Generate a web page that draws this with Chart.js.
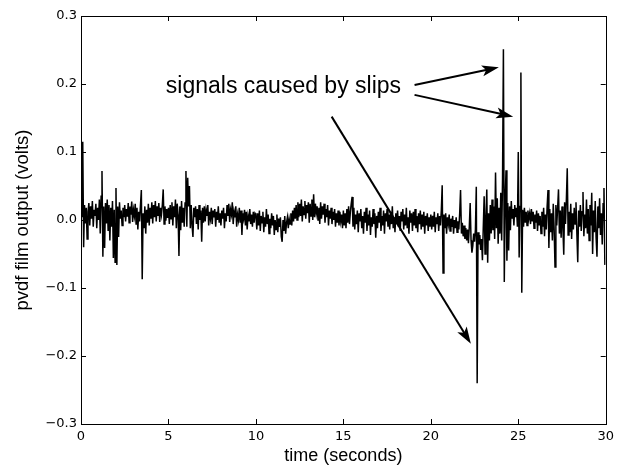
<!DOCTYPE html>
<html>
<head>
<meta charset="utf-8">
<script src="https://cdn.jsdelivr.net/npm/chart.js@4/dist/chart.umd.min.js"></script>
<style>
  html, body { margin: 0; padding: 0; background: #fff; }
  canvas { display: block; }
</style>
</head>
<body>
<canvas id="c" width="619" height="467" style="width:619px;height:467px"></canvas>
<script>
// ---- Data (pvdf film output, millivolts), one array per 5-second block, sampled every 0.05 s ----
const SAMPLE_STEP_S = 0.05;
const block_00_05_mV = [5,30,115,-40,22,-5,18,-28,12,25,-8,20,2,28,-10,15,6,24,-12,18,
  0,30,-20,35,72,-54,20,-41,25,-5,30,-15,22,-30,18,-10,28,-56,15,-62,
  47,-66,20,-25,26,2,14,-8,18,4,22,-2,16,5,25,-4,20,8,27,-3,
  15,6,24,-6,18,-14,12,-2,22,44,-87,10,-12,20,-20,15,-4,24,-8,18,
  2,26,-5,22,4,28,-2,20,6,25,-3,18,8,22,45,-6,20,-1,16,3];
const block_05_10_mV = [18,-6,22,2,26,-8,20,4,30,-12,24,8,-53,20,-15,28,-4,18,-10,25,
  72,-10,62,20,50,-12,22,-8,-25,18,4,20,-6,16,-14,22,0,14,-32,18,
  -4,20,-2,15,6,22,-8,12,2,18,-6,14,4,16,-10,12,0,20,-4,10,
  -8,14,2,18,-12,10,-2,22,6,24,-3,15,8,26,-6,12,4,20,-10,8,
  0,18,-4,14,-22,10,2,15,-8,12,-14,6,-2,16,-6,8,-10,12,-4,10];
const block_10_15_mV = [8,-14,10,-8,14,-16,6,-4,12,-18,4,-10,16,-6,8,-20,2,-12,10,-8,
  6,-22,0,-14,8,-18,2,-10,4,-24,-32,0,-16,6,-20,-4,4,-12,2,-6,
  10,-8,14,-2,18,2,22,0,26,4,24,6,30,-2,20,8,28,2,22,10,
  26,-4,24,6,30,0,38,4,24,10,20,0,18,-6,26,2,20,8,24,-4,
  16,4,22,-8,14,2,18,-6,12,0,16,-10,10,-4,14,-8,12,-2,8,-12];
const block_15_20_mV = [14,-8,10,-12,16,-4,20,-6,12,24,34,-10,18,-14,8,-6,14,-18,10,-2,
  16,-12,6,-20,12,-4,18,-16,8,-8,14,-22,4,-10,16,-6,10,-26,6,-12,
  12,-4,18,-16,6,-8,14,-20,10,-2,16,-10,8,-14,12,-6,20,-12,4,-18,
  10,-6,14,-10,6,-16,12,-2,16,-14,8,-8,18,-12,4,-20,14,-4,10,-16,
  12,-8,16,-12,6,-18,10,-6,14,-14,8,-10,12,-20,6,-8,10,-16,4,-10];
const block_20_25_mV = [8,-14,6,-10,12,-18,4,-6,10,-16,6,-8,14,51,-78,8,-12,10,-20,4,
  -6,8,-16,2,-10,6,-20,0,-12,4,-18,-2,-14,10,44,-20,-4,-24,-8,-28,
  -12,-30,-14,-34,-10,25,-30,-48,-38,-20,-32,-14,49,-240,-18,-36,-22,-44,-28,-59,
  -10,35,-50,4,45,-63,10,-30,22,-20,30,-15,20,-28,70,-12,32,-35,18,-20,
  40,-30,60,251,-91,30,73,-60,25,-45,20,-15,28,2,16,-8,22,4,18,-10];
const block_25_30_mV = [100,-55,20,217,-107,15,-10,18,-4,12,-8,14,2,10,-6,16,-2,12,-12,8,
  -4,14,-16,10,-8,6,-20,12,-10,18,-24,8,-14,20,44,-41,16,-18,10,-30,
  24,-12,-69,22,-8,18,45,-20,14,-26,20,-10,-51,26,-6,30,76,-22,12,-18,
  24,-28,10,-14,18,-6,26,-20,-62,14,-10,22,-16,12,41,-24,8,-12,30,-20,
  16,-30,22,-8,40,-50,14,-18,28,-26,-54,20,-12,32,-22,10,-36,24,47,-66];
const blockStarts_s = [0, 5, 10, 15, 20, 25];
const blocks_mV = [block_00_05_mV, block_05_10_mV, block_10_15_mV, block_15_20_mV, block_20_25_mV, block_25_30_mV];

// Axis tick values
const xTicks = [0, 5, 10, 15, 20, 25, 30];
const yTicks = [-0.3, -0.2, -0.1, 0.0, 0.1, 0.2, 0.3];

// Annotation: text anchor and arrows, in data coordinates (seconds, volts)
const annotationText = 'signals caused by slips';
const annotationAnchor = { x: 4.85, y: 0.187 };
const arrowStarts = [{ x: 19.07, y: 0.1985 }, { x: 19.07, y: 0.184 }, { x: 14.33, y: 0.152 }];
const arrowTips   = [{ x: 23.89, y: 0.2246 }, { x: 24.71, y: 0.152 }, { x: 22.29, y: -0.182 }];

// Build points
const points = [];
blocks_mV.forEach((blk, b) => {
  blk.forEach((mv, i) => {
    points.push({ x: +(blockStarts_s[b] + i * SAMPLE_STEP_S).toFixed(2), y: mv / 1000 });
  });
});

function fmtY(v) {
  if (Math.abs(v) < 1e-9) return '0.0';
  const s = Math.abs(v).toFixed(1);
  return (v < 0 ? '\u2212' : '') + s;
}

const framePlugin = {
  id: 'frame',
  afterDatasetsDraw(chart) {
    const { ctx, chartArea: a, scales: { x, y } } = chart;
    ctx.save();
    ctx.strokeStyle = '#000';
    ctx.lineWidth = 1;
    // frame
    ctx.strokeRect(Math.round(a.left) + 0.5, Math.round(a.top) + 0.5,
      Math.round(a.right - a.left), Math.round(a.bottom - a.top));
    // inward ticks on all sides
    const TL = 5;
    ctx.beginPath();
    xTicks.forEach(v => {
      const px = Math.round(x.getPixelForValue(v)) + 0.5;
      ctx.moveTo(px, a.bottom); ctx.lineTo(px, a.bottom - TL);
      ctx.moveTo(px, a.top); ctx.lineTo(px, a.top + TL);
    });
    yTicks.forEach(v => {
      const py = Math.round(y.getPixelForValue(v)) + 0.5;
      ctx.moveTo(a.left, py); ctx.lineTo(a.left + TL, py);
      ctx.moveTo(a.right, py); ctx.lineTo(a.right - TL, py);
    });
    ctx.stroke();

    // annotation text
    ctx.fillStyle = '#000';
    ctx.font = '23px "Liberation Sans", Arial, sans-serif';
    ctx.textBaseline = 'alphabetic';
    ctx.textAlign = 'left';
    ctx.fillText(annotationText, x.getPixelForValue(annotationAnchor.x), y.getPixelForValue(annotationAnchor.y));

    // arrows
    arrowStarts.forEach((s, k) => {
      const t = arrowTips[k];
      const x0 = x.getPixelForValue(s.x), y0 = y.getPixelForValue(s.y);
      const x1 = x.getPixelForValue(t.x), y1 = y.getPixelForValue(t.y);
      const ang = Math.atan2(y1 - y0, x1 - x0);
      const HL = 15, HW = 5.5;
      const bx = x1 - HL * Math.cos(ang), by = y1 - HL * Math.sin(ang);
      ctx.beginPath();
      ctx.lineWidth = 2;
      ctx.moveTo(x0, y0);
      ctx.lineTo(bx + 3 * Math.cos(ang), by + 3 * Math.sin(ang));
      ctx.stroke();
      ctx.beginPath();
      ctx.moveTo(x1, y1);
      ctx.lineTo(bx - HW * Math.sin(ang) - 2 * Math.cos(ang), by + HW * Math.cos(ang) - 2 * Math.sin(ang));
      ctx.lineTo(bx + 2 * Math.cos(ang), by + 2 * Math.sin(ang));
      ctx.lineTo(bx + HW * Math.sin(ang) - 2 * Math.cos(ang), by - HW * Math.cos(ang) - 2 * Math.sin(ang));
      ctx.closePath();
      ctx.fill();
    });
    ctx.restore();
  }
};

new Chart(document.getElementById('c').getContext('2d'), {
  type: 'line',
  data: {
    datasets: [{
      data: points,
      borderColor: '#000',
      borderWidth: 1.5,
      pointRadius: 0,
      tension: 0,
      fill: false
    }]
  },
  options: {
    responsive: false,
    animation: false,
    events: [],
    layout: { padding: { left: 0, right: 11, top: 16, bottom: 0 } },
    plugins: { legend: { display: false }, tooltip: { enabled: false } },
    scales: {
      x: {
        type: 'linear', min: 0, max: 30,
        afterBuildTicks: s => { s.ticks = xTicks.map(v => ({ value: v })); },
        ticks: { color: '#000', padding: 5, maxRotation: 0, autoSkip: false,
          font: { family: 'DejaVu Sans', size: 13 }, callback: v => String(v) },
        grid: { display: false, drawTicks: false },
        border: { display: false },
        title: { display: true, text: 'time (seconds)', color: '#000',
          font: { family: 'Liberation Sans', size: 18 }, padding: { top: 0, bottom: 0 } },
        afterFit: s => { s.height = 43; }
      },
      y: {
        type: 'linear', min: -0.3, max: 0.3,
        afterBuildTicks: s => { s.ticks = yTicks.map(v => ({ value: v })); },
        ticks: { color: '#000', padding: 4, autoSkip: false,
          font: { family: 'DejaVu Sans', size: 13 }, callback: v => fmtY(v) },
        grid: { display: false, drawTicks: false },
        border: { display: false },
        title: { display: true, text: 'pvdf film output (volts)', color: '#000',
          font: { family: 'Liberation Sans', size: 18.5 }, padding: { top: 12, bottom: 0 } },
        afterFit: s => { s.width = 81; }
      }
    }
  },
  plugins: [framePlugin]
});
</script>
</body>
</html>
